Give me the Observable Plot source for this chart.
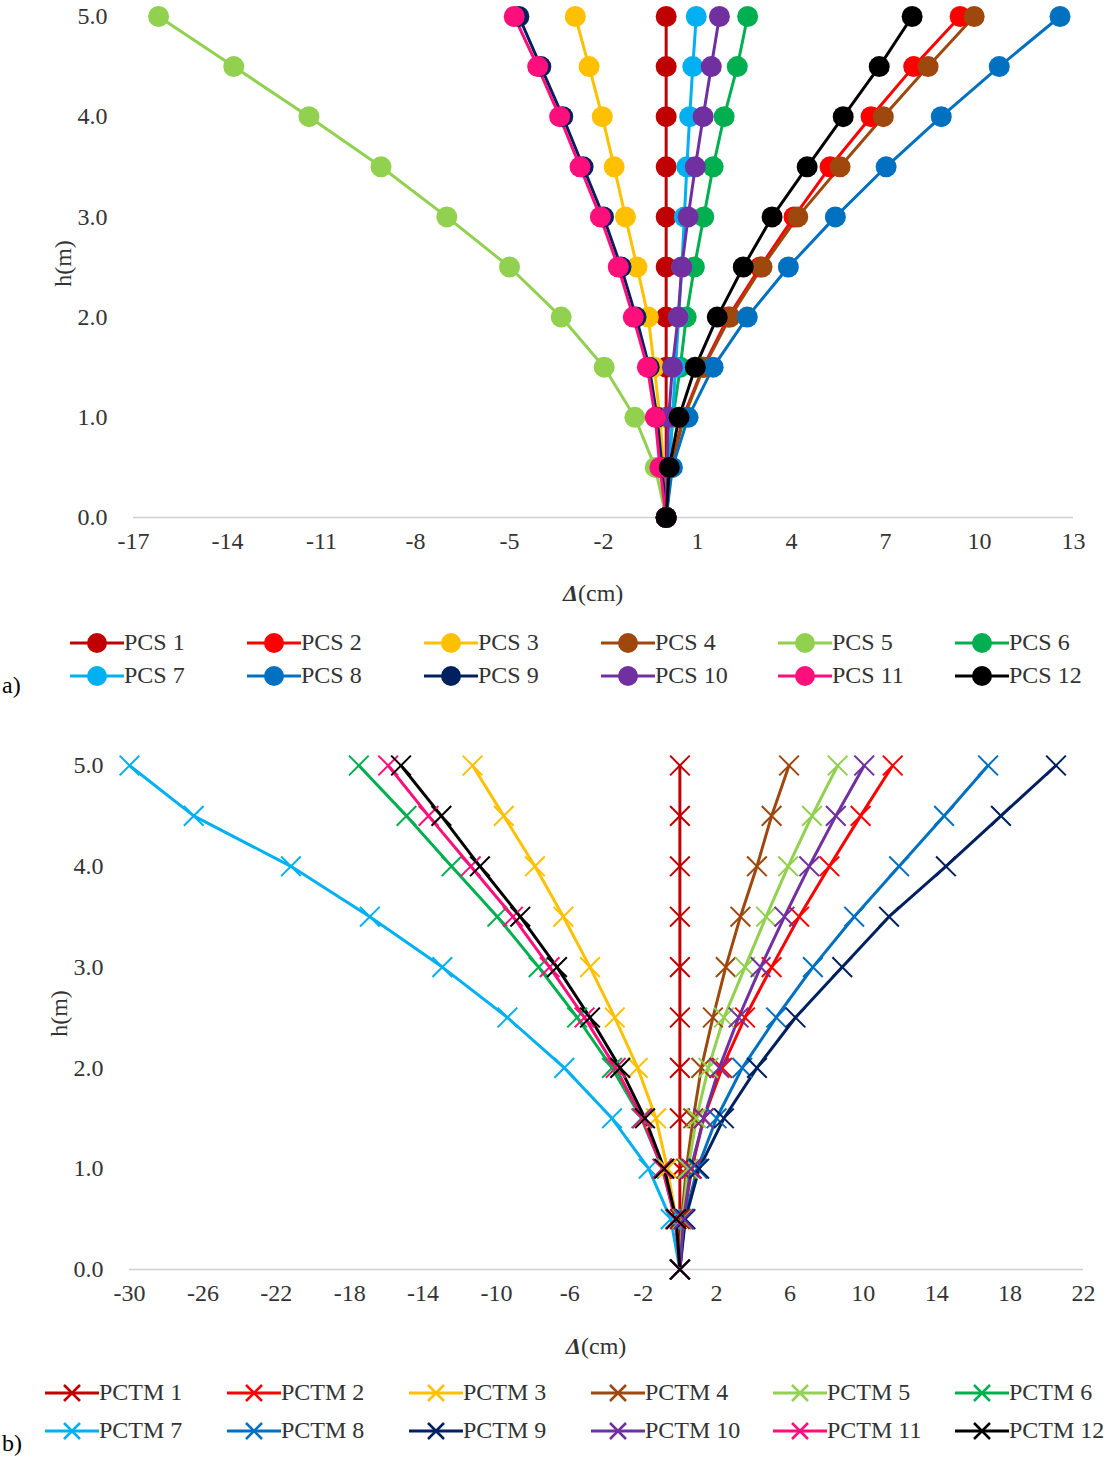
<!DOCTYPE html>
<html><head><meta charset="utf-8">
<script src="https://cdn.jsdelivr.net/npm/d3@7"></script>
<script src="https://cdn.jsdelivr.net/npm/@observablehq/plot@0.6"></script>
<style>
body{margin:0;background:#fff;font-family:"Liberation Serif",serif;}
#root{position:relative;width:1116px;height:1457px;}
.abs{position:absolute;}
.lab{font-size:24px;color:#333;}
.leg{position:absolute;font-size:24px;color:#333;display:flex;align-items:center;white-space:nowrap;}
</style></head><body><div id="root"></div>
<script>
const heights=[0,0.5,1,1.5,2,2.5,3,3.5,4,4.5,5];
const namesA=["PCS 1","PCS 2","PCS 3","PCS 4","PCS 5","PCS 6","PCS 7","PCS 8","PCS 9","PCS 10","PCS 11","PCS 12"];
const namesB=["PCTM 1","PCTM 2","PCTM 3","PCTM 4","PCTM 5","PCTM 6","PCTM 7","PCTM 8","PCTM 9","PCTM 10","PCTM 11","PCTM 12"];
const colors=["#c00000","#ff0000","#ffc000","#9e480e","#92d050","#00b050","#00b0f0","#0070c0","#002060","#7030a0","#ff0f7b","#000000"];
const pcs1=[0,0,0,0,0,0,0,0,0,0,0];
const pcs2=[0,0.15,0.54,1.18,1.98,3.0,4.08,5.23,6.54,7.9,9.38];
const pcs3=[0,-0.08,-0.2,-0.38,-0.57,-0.93,-1.3,-1.66,-2.04,-2.46,-2.9];
const pcs4=[0,0.15,0.57,1.2,2.04,3.06,4.2,5.55,6.93,8.36,9.83];
const pcs5=[0,-0.35,-1.0,-1.98,-3.35,-5.0,-7.0,-9.1,-11.4,-13.8,-16.2];
const pcs6=[0,0.07,0.22,0.45,0.64,0.9,1.2,1.5,1.85,2.27,2.6];
const pcs7=[0,0.1,0.2,0.3,0.4,0.5,0.58,0.66,0.75,0.85,0.96];
const pcs8=[0,0.2,0.7,1.5,2.59,3.9,5.4,7.02,8.78,10.63,12.57];
const pcs9=[0,-0.13,-0.29,-0.54,-0.96,-1.44,-2.0,-2.65,-3.3,-4.0,-4.7];
const pcs10=[0,0.03,0.08,0.2,0.38,0.5,0.7,0.93,1.18,1.44,1.7];
const pcs11=[0,-0.2,-0.35,-0.6,-1.05,-1.53,-2.1,-2.75,-3.4,-4.1,-4.85];
const pcs12=[0,0.1,0.41,0.93,1.63,2.46,3.38,4.5,5.65,6.8,7.85];
const pctm1=[0,0,0,0,0,0,0,0,0,0,0];
const pctm2=[0,0.2,0.65,1.3,2.3,3.55,5.0,6.5,8.15,9.85,11.6];
const pctm3=[0,-0.2,-0.68,-1.3,-2.3,-3.55,-4.9,-6.35,-7.9,-9.6,-11.3];
const pctm4=[0,0.1,0.35,0.73,1.17,1.8,2.5,3.3,4.2,5.0,5.95];
const pctm5=[0,0.15,0.45,0.9,1.55,2.4,3.55,4.7,5.9,7.2,8.6];
const pctm6=[0,-0.25,-0.95,-2.1,-3.7,-5.6,-7.7,-9.95,-12.45,-14.9,-17.5];
const pctm7=[0,-0.5,-1.7,-3.7,-6.3,-9.4,-12.95,-16.9,-21.2,-26.5,-30];
const pctm8=[0,0.25,0.95,2.0,3.4,5.25,7.25,9.5,11.95,14.4,16.8];
const pctm9=[0,0.3,1.05,2.4,4.2,6.3,8.85,11.4,14.5,17.5,20.5];
const pctm10=[0,0.2,0.6,1.3,2.15,3.2,4.4,5.7,7.05,8.5,10.05];
const pctm11=[0,-0.25,-0.95,-2.05,-3.5,-5.2,-7.1,-9.1,-11.4,-13.7,-15.9];
const pctm12=[0,-0.2,-0.85,-1.9,-3.25,-4.9,-6.7,-8.7,-10.9,-13.0,-15.2];
const ticksA=[-17,-14,-11,-8,-5,-2,1,4,7,10,13];
const ticksB=[-30,-26,-22,-18,-14,-10,-6,-2,2,6,10,14,18,22];
const seriesA=[pcs1,pcs2,pcs3,pcs4,pcs5,pcs6,pcs7,pcs8,pcs9,pcs10,pcs11,pcs12];
const seriesB=[pctm1,pctm2,pctm3,pctm4,pctm5,pctm6,pctm7,pctm8,pctm9,pctm10,pctm11,pctm12];
const root=document.getElementById("root");
function add(html,style){const d=document.createElement("div");d.className="abs";d.innerHTML=html;Object.assign(d.style,style);root.appendChild(d);return d;}

function chart(names,series,ticks,dom,top,mt,plotH,ml,mr,marker){
  const data=series.flatMap((s,i)=>s.map((v,j)=>({name:names[i],x:v,h:heights[j]})));
  const p=Plot.plot({width:1116,height:mt+plotH+60,marginTop:mt,marginBottom:60,marginLeft:ml,marginRight:mr,
    style:{fontFamily:"Liberation Serif",fontSize:"24px",color:"#333",background:"transparent"},
    x:{domain:dom,ticks:ticks,tickSize:0,tickPadding:14,label:null,tickFormat:d=>d},
    y:{domain:[0,5],ticks:[0,1,2,3,4,5],tickSize:0,tickPadding:26,label:null},
    color:{domain:names,range:colors},
    marks:[
      Plot.ruleY([0],{stroke:"#d0d0d0",strokeWidth:1.5}),
      Plot.line(data,{x:"x",y:"h",z:"name",stroke:"name",strokeWidth:3}),
      marker==="dot"?Plot.dot(data,{x:"x",y:"h",fill:"name",r:10.5}):
      Plot.dot(data,{x:"x",y:"h",stroke:"name",symbol:"times",r:9,strokeWidth:2})
    ]});
  p.style.position="absolute";p.style.left="0";p.style.top=top+"px";
  root.appendChild(p);
}
chart(namesA,seriesA,ticksA,[-17,13],0,16,501,133,43,"dot");
chart(namesB,seriesB,ticksB,[-30,22],750,15,504,129,33,"x");

add("h(m)",{left:"40px",top:"250px",fontSize:"24px",color:"#333",transform:"rotate(-90deg)"});
add("h(m)",{left:"36px",top:"1000px",fontSize:"24px",color:"#333",transform:"rotate(-90deg)"});
add("<b><i>Δ</i></b>(cm)",{left:"563px",top:"580px",fontSize:"24px",color:"#333"});
add("<b><i>Δ</i></b>(cm)",{left:"566px",top:"1333px",fontSize:"24px",color:"#333"});
add("a)",{left:"2px",top:"672px",fontSize:"24px",color:"#000"});
add("b)",{left:"2px",top:"1430px",fontSize:"24px",color:"#000"});

function legend(names,x0,step,rows,marker){
  names.forEach((n,i)=>{
    const r=Math.floor(i/6),c=i%6;
    const sym=marker==="dot"?`<circle cx="27" cy="12" r="10" fill="${colors[i]}"/>`:
      `<path d="M19,4L35,20M35,4L19,20" stroke="${colors[i]}" stroke-width="2.5"/>`;
    const d=document.createElement("div");d.className="leg";
    d.style.left=(x0+c*step)+"px";d.style.top=(rows[r]-14)+"px";
    d.innerHTML=`<svg width="54" height="24"><line x1="0" y1="12" x2="54" y2="12" stroke="${colors[i]}" stroke-width="3"/>${sym}</svg><span>${n}</span>`;
    root.appendChild(d);
  });
}
legend(namesA,70,177,[643,676],"dot");
legend(namesB,45,182,[1393,1431],"x");
</script></body></html>
